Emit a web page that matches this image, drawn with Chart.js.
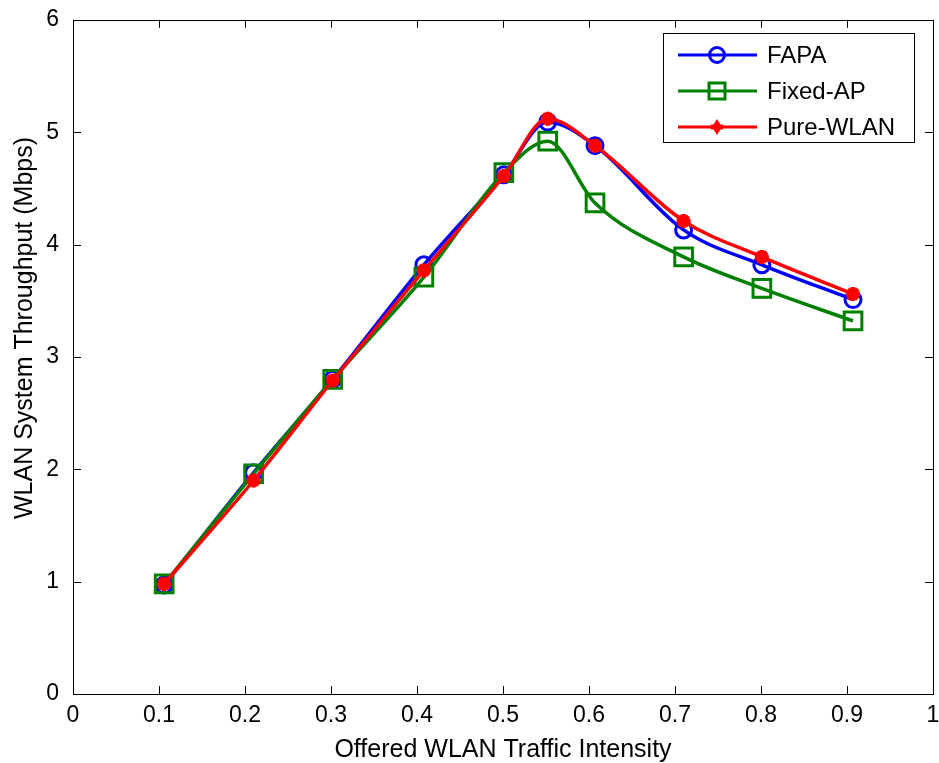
<!DOCTYPE html>
<html>
<head>
<meta charset="utf-8">
<script src="https://cdn.jsdelivr.net/npm/chart.js@4/dist/chart.umd.min.js"></script>
<style>
html,body{margin:0;padding:0;background:#fff;}
#wrap{width:939px;height:763px;position:relative;}
</style>
</head>
<body>
<div id="wrap"><canvas id="c" width="939" height="763"></canvas></div>
<script>
// ---- data ----
const intensity = [0.106, 0.210, 0.302, 0.408, 0.501, 0.552, 0.607, 0.710, 0.801, 0.907];
const fapa      = [0.97, 1.97, 2.80, 3.82, 4.62, 5.09, 4.88, 4.13, 3.82, 3.51];
const fixedAP   = [0.98, 1.96, 2.80, 3.71, 4.64, 4.92, 4.37, 3.89, 3.61, 3.32];
const pureWLAN  = [0.98, 1.90, 2.79, 3.77, 4.61, 5.12, 4.88, 4.21, 3.89, 3.56];
const seriesNames = ['FAPA', 'Fixed-AP', 'Pure-WLAN'];
const xTickLabels = ['0','0.1','0.2','0.3','0.4','0.5','0.6','0.7','0.8','0.9','1'];
const yTickLabels = ['0','1','2','3','4','5','6'];
const xTitle = 'Offered WLAN Traffic Intensity';
const yTitle = 'WLAN System Throughput (Mbps)';

const FONT = "'Liberation Sans', Arial, sans-serif";
const toPts = (ys) => ys.map((y, i) => ({x: intensity[i], y: y}));

const boxPlugin = {
  id: 'matlabBox',
  afterDatasetsDraw(chart) {
    const {ctx, chartArea: a, scales} = chart;
    ctx.save();
    ctx.strokeStyle = '#000';
    ctx.lineWidth = 1;
    ctx.strokeRect(Math.round(a.left) + 0.5, Math.round(a.top) + 0.5,
                   Math.round(a.right - a.left), Math.round(a.bottom - a.top));
    const L = 8;
    ctx.beginPath();
    scales.x.ticks.forEach(t => {
      const px = Math.round(scales.x.getPixelForValue(t.value)) + 0.5;
      ctx.moveTo(px, a.bottom); ctx.lineTo(px, a.bottom - L);
      ctx.moveTo(px, a.top); ctx.lineTo(px, a.top + L);
    });
    scales.y.ticks.forEach(t => {
      const py = Math.round(scales.y.getPixelForValue(t.value)) + 0.5;
      ctx.moveTo(a.left, py); ctx.lineTo(a.left + L, py);
      ctx.moveTo(a.right, py); ctx.lineTo(a.right - L, py);
    });
    ctx.stroke();

    // x tick labels (drawn here so the last label may overhang like MATLAB)
    ctx.fillStyle = '#000';
    ctx.font = '23px ' + FONT;
    ctx.textAlign = 'center';
    ctx.textBaseline = 'alphabetic';
    scales.x.ticks.forEach((t, i) => {
      ctx.fillText(xTickLabels[i], scales.x.getPixelForValue(t.value), a.bottom + 28);
    });

    // y-axis title (MATLAB places it slightly above centre)
    ctx.save();
    ctx.translate(25, 328);
    ctx.rotate(-Math.PI / 2);
    ctx.font = '25px ' + FONT;
    ctx.textAlign = 'center';
    ctx.textBaseline = 'middle';
    ctx.fillText(yTitle, 0, 0);
    ctx.restore();

    // legend box (inside plot, top right)
    const lx = 663, ly = 33, lw = 251, lh = 109;
    ctx.fillStyle = '#fff';
    ctx.fillRect(lx, ly, lw, lh);
    ctx.lineWidth = 1;
    ctx.strokeStyle = '#000';
    ctx.strokeRect(lx + 0.5, ly + 0.5, lw, lh);
    chart.data.datasets.forEach((ds, i) => {
      const cy = ly + 22 + i * 36;
      ctx.strokeStyle = ds.borderColor;
      ctx.lineWidth = 3;
      ctx.beginPath(); ctx.moveTo(lx + 15, cy); ctx.lineTo(lx + 94, cy); ctx.stroke();
      const cx = lx + 54;
      if (ds.pointStyle === 'circle') {
        ctx.lineWidth = 3;
        ctx.beginPath(); ctx.arc(cx, cy, 7.5, 0, Math.PI * 2); ctx.stroke();
      } else if (ds.pointStyle === 'rect') {
        ctx.lineWidth = 3;
        ctx.strokeRect(cx - 8, cy - 8, 16, 16);
      } else {
        ctx.fillStyle = ds.borderColor;
        ctx.beginPath();
        ctx.moveTo(cx, cy - 8); ctx.lineTo(cx + 5, cy); ctx.lineTo(cx, cy + 8); ctx.lineTo(cx - 5, cy);
        ctx.closePath(); ctx.fill();
        ctx.fillRect(cx - 6, cy - 2.5, 12, 5);
      }
      ctx.fillStyle = '#000';
      ctx.font = '24px ' + FONT;
      ctx.textBaseline = 'middle';
      ctx.textAlign = 'left';
      ctx.fillText(ds.label, lx + 104, cy + 1);
    });
    ctx.restore();
  }
};

new Chart(document.getElementById('c'), {
  type: 'line',
  data: {
    datasets: [
      { label: seriesNames[0], data: toPts(fapa), borderColor: '#0000ff', backgroundColor: 'rgba(0,0,0,0)',
        borderWidth: 3.5, pointStyle: 'circle', pointRadius: 8, pointBorderWidth: 3, order: 3 },
      { label: seriesNames[1], data: toPts(fixedAP), borderColor: '#008000', backgroundColor: 'rgba(0,0,0,0)',
        borderWidth: 3.5, pointStyle: 'rect', pointRadius: 12.5, pointBorderWidth: 3, order: 2 },
      { label: seriesNames[2], data: toPts(pureWLAN), borderColor: '#ff0000', backgroundColor: '#ff0000',
        borderWidth: 3.5, pointStyle: 'star', pointRadius: 7, pointBorderWidth: 4.5, order: 1 }
    ]
  },
  plugins: [boxPlugin],
  options: {
    responsive: false,
    animation: false,
    devicePixelRatio: 1,
    elements: { line: { cubicInterpolationMode: 'monotone' } },
    layout: { autoPadding: false, padding: { left: 0, right: 6, top: 18, bottom: 0 } },
    plugins: { legend: { display: false }, tooltip: { enabled: false } },
    scales: {
      x: {
        type: 'linear', min: 0, max: 1,
        grid: { display: false }, border: { display: false },
        afterBuildTicks: (s) => { s.ticks = xTickLabels.map(v => ({ value: parseFloat(v) })); },
        ticks: { display: false },
        title: { display: true, text: xTitle, color: '#000', font: { family: FONT, size: 25 }, padding: { top: 0, bottom: -2 } },
        afterFit: (s) => { s.height = 69; }
      },
      y: {
        type: 'linear', min: 0, max: 6,
        grid: { display: false }, border: { display: false },
        afterBuildTicks: (s) => { s.ticks = yTickLabels.map(v => ({ value: parseFloat(v) })); },
        ticks: { color: '#000', font: { family: FONT, size: 23 }, padding: 6,
                 autoSkip: false, callback: (v, i) => yTickLabels[i] },
        title: { display: false },
        afterFit: (s) => { s.width = 73; }
      }
    }
  }
});
</script>
</body>
</html>
